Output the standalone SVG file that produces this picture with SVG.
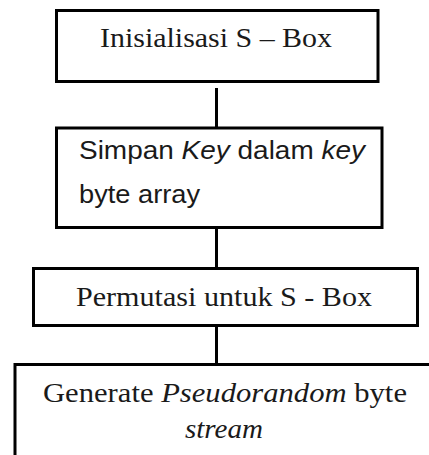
<svg xmlns="http://www.w3.org/2000/svg" width="429" height="455" viewBox="0 0 429 455">
<style>
.box{fill:#fff;stroke:#000;stroke-width:3}
.con{stroke:#000;stroke-width:3;fill:none}
.serif{font-family:"Liberation Serif","Times New Roman",serif;fill:#1a1a1a}
.sans{font-family:"Liberation Sans",Arial,sans-serif;fill:#1a1a1a}
</style>
<rect width="429" height="455" fill="#fff"/>
<g id="connectors">
<line class="con" x1="216.5" y1="88" x2="216.5" y2="128"/>
<line class="con" x1="216.5" y1="227.5" x2="216.5" y2="268.5"/>
<line class="con" x1="216.5" y1="325.5" x2="216.5" y2="364.5"/>
</g>
<g id="n1">
<rect class="box" x="56.5" y="10.5" width="321.5" height="71"/>
<text class="serif" x="100" y="46.5" font-size="28" textLength="232" lengthAdjust="spacingAndGlyphs">Inisialisasi S – Box</text>
</g>
<g id="n2">
<rect class="box" x="56.5" y="128" width="325.5" height="99.5"/>
<text class="sans" x="79" y="159" font-size="26.5" textLength="286" lengthAdjust="spacingAndGlyphs">Simpan <tspan font-style="italic">Key</tspan> dalam <tspan font-style="italic">key</tspan></text>
<text class="sans" x="79" y="203" font-size="26.5" textLength="121" lengthAdjust="spacingAndGlyphs">byte array</text>
</g>
<g id="n3">
<rect class="box" x="33.5" y="268.5" width="384" height="57"/>
<text class="serif" x="76" y="305.5" font-size="28" textLength="296" lengthAdjust="spacingAndGlyphs">Permutasi untuk S - Box</text>
</g>
<g id="n4">
<rect class="box" x="15" y="364.5" width="430" height="120"/>
<text class="serif" x="43" y="401.5" font-size="27" textLength="364" lengthAdjust="spacingAndGlyphs">Generate <tspan font-style="italic">Pseudorandom</tspan> byte</text>
<text class="serif" x="185" y="438" font-size="27" font-style="italic" textLength="78" lengthAdjust="spacingAndGlyphs">stream</text>
</g>
</svg>
